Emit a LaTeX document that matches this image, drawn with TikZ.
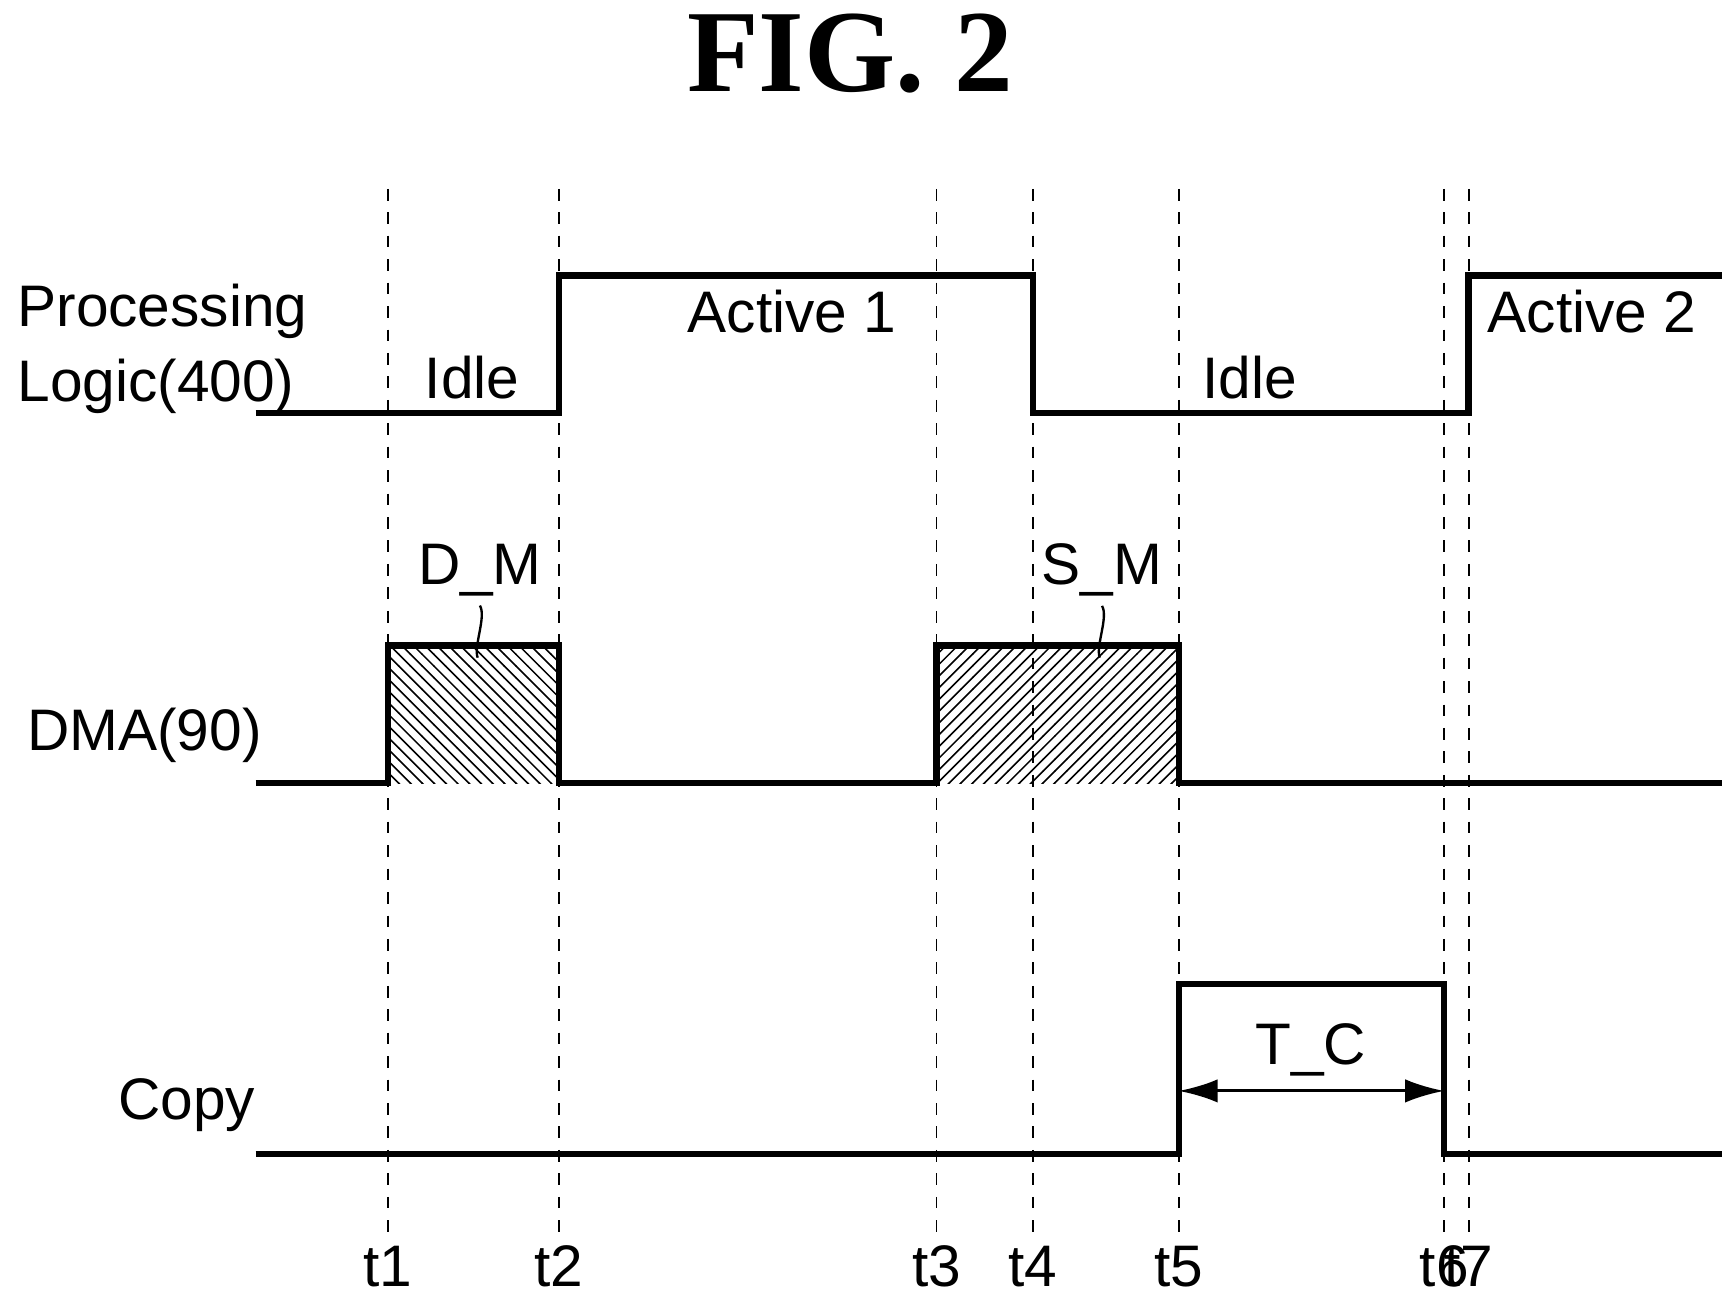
\documentclass[tikz,border=0pt]{standalone}
\usepackage{fontspec}
\setmainfont{Liberation Sans}
\newfontfamily\figfont{Liberation Serif}
\usetikzlibrary{patterns,arrows.meta}
\begin{document}
\begin{tikzpicture}[x=0.01cm,y=-0.01cm,
  sig/.style={line width=1.6pt},
  guide/.style={dashed,line width=0.5pt},
  lab/.style={font=\fontsize{15}{17}\selectfont,inner sep=0pt},
  tl/.style={font=\fontsize{15}{17}\selectfont,inner sep=0pt}]
\useasboundingbox (0,0) rectangle (1560,1169);
\node[font=\figfont\bfseries\fontsize{30}{32}\selectfont] (fig) at (765,48) {FIG. 2};
% guides
\foreach \x/\n in {349/1,503/2,843/3,930/4,1061/5,1300/6,1322/7}{
  \coordinate (g\n) at (\x,170);
  \coordinate (h\n) at (\x,1112);
  \draw[guide] (g\n) -- (h\n);
  \node[tl] (t\n) at (\x,1140) {t\n};
}
% hatched areas
\fill[pattern=north west lines] (349,581) rectangle (503,705);
\fill[pattern=north east lines] (843,581) rectangle (1061,705);
% signals
\draw[sig] (230,372) -- (503,372) -- (503,248) -- (930,248) -- (930,372) -- (1322,372) -- (1322,248) -- (1550,248);
\draw[sig] (230,705) -- (349,705) -- (349,581) -- (503,581) -- (503,705) -- (843,705) -- (843,581) -- (1061,581) -- (1061,705) -- (1550,705);
\draw[sig] (230,1039) -- (1061,1039) -- (1061,886) -- (1300,886) -- (1300,1039) -- (1550,1039);
% labels
\node[lab,align=left,anchor=west] (pl) at (15,314) {Processing\\[2pt]Logic(400)};
\node[lab] (dma) at (130,662) {DMA(90)};
\node[lab] (cp) at (168,995) {Copy};
\node[lab] (i1) at (425,340) {Idle};
\node[lab] (a1) at (713,280) {Active 1};
\node[lab] (i2) at (1125,340) {Idle};
\node[lab] (a2) at (1433,280) {Active 2};
\node[lab] (dm) at (432,513) {D\_M};
\node[lab] (sm) at (992,513) {S\_M};
\node[lab] (tc) at (1180,945) {T\_C};
\draw[line width=0.6pt] (dm.south) ++(0,8) .. controls +(6,10) and +(-4,-10) .. (430,592);
\draw[line width=0.6pt] (sm.south) ++(0,8) .. controls +(6,10) and +(-4,-10) .. (990,592);
\coordinate (tcl) at (1061,982);
\coordinate (tcr) at (1300,982);
\draw[line width=0.8pt,{Latex[length=10pt,width=6pt]}-{Latex[length=10pt,width=6pt]}] (tcl) -- (tcr);
\end{tikzpicture}
\end{document}
